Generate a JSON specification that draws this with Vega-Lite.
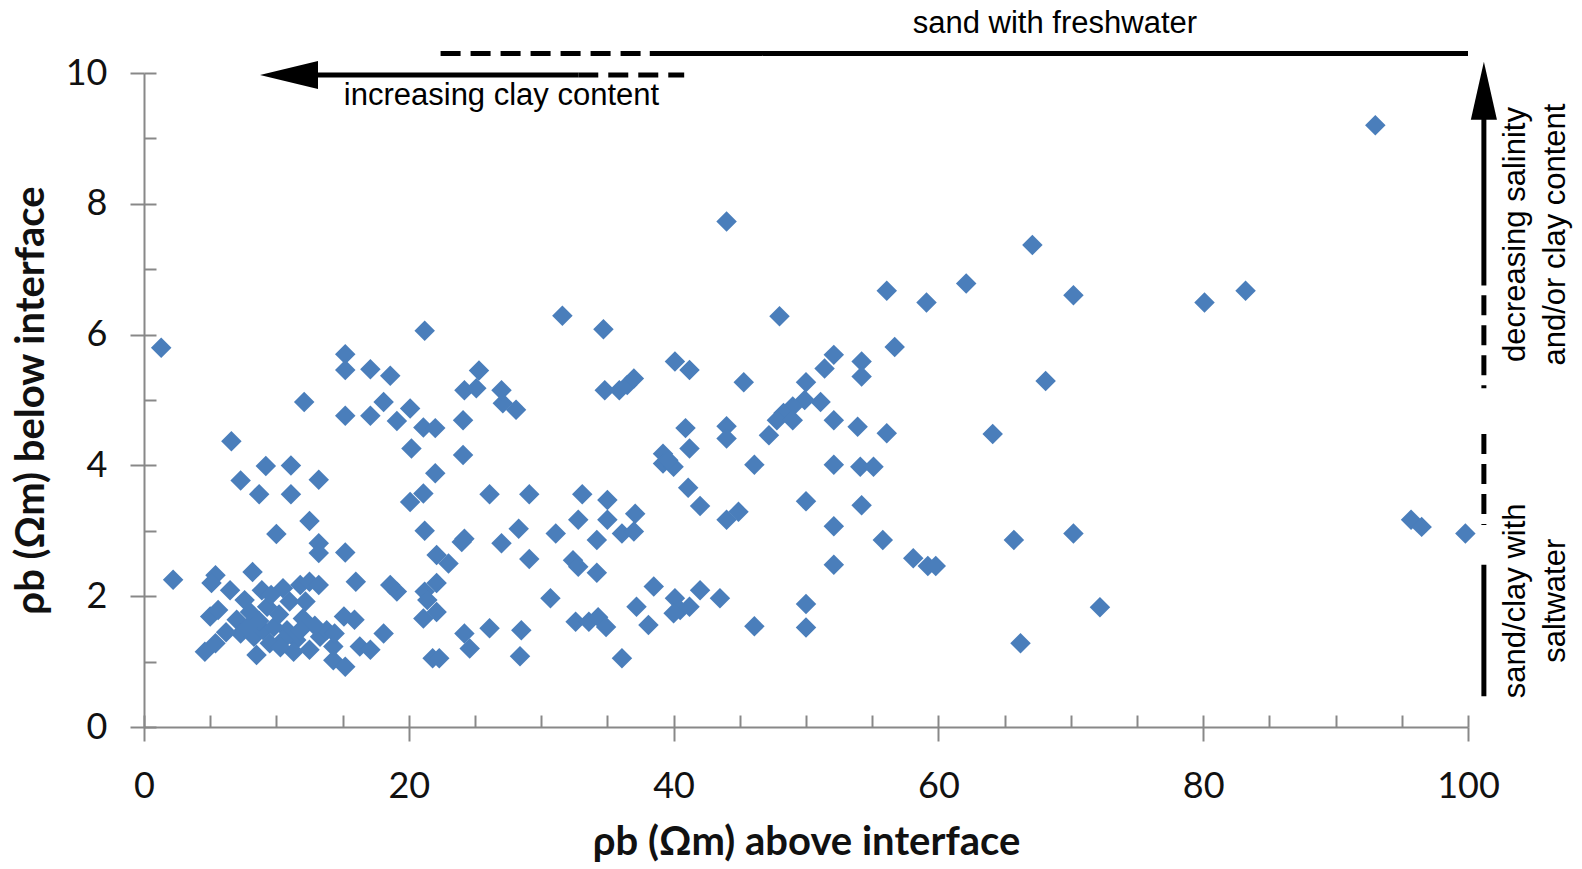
{
  "$schema": "https://vega.github.io/schema/vega-lite/v6.json",
  "width": 1324,
  "height": 654,
  "autosize": {"type": "none"},
  "padding": {"left": 144, "top": 73, "right": 114, "bottom": 142},
  "background": "white",
  "config": {"view": {"stroke": null}},
  "datasets": {
    "pts": [
      {"above": 1.3, "below": 5.8}, {"above": 2.2, "below": 2.25},
      {"above": 10.0, "below": 2.95}, {"above": 12.5, "below": 3.15}, {"above": 13.2, "below": 2.81}, {"above": 13.2, "below": 2.66},
      {"above": 5.4, "below": 2.32}, {"above": 5.1, "below": 2.2}, {"above": 8.2, "below": 2.37}, {"above": 6.5, "below": 2.09},
      {"above": 7.6, "below": 1.94}, {"above": 8.9, "below": 2.09}, {"above": 10.5, "below": 2.12}, {"above": 11.8, "below": 2.17},
      {"above": 12.5, "below": 2.22}, {"above": 13.2, "below": 2.17}, {"above": 5.0, "below": 1.69}, {"above": 5.6, "below": 1.79},
      {"above": 7.0, "below": 1.64}, {"above": 8.0, "below": 1.76}, {"above": 9.3, "below": 1.84}, {"above": 12.0, "below": 1.66},
      {"above": 7.3, "below": 1.43}, {"above": 8.3, "below": 1.38}, {"above": 9.0, "below": 1.48}, {"above": 9.8, "below": 1.53},
      {"above": 10.8, "below": 1.48}, {"above": 11.5, "below": 1.33}, {"above": 10.5, "below": 1.33}, {"above": 9.5, "below": 1.28},
      {"above": 4.6, "below": 1.15}, {"above": 5.4, "below": 1.28}, {"above": 8.5, "below": 1.1}, {"above": 13.3, "below": 1.38},
      {"above": 13.8, "below": 1.48}, {"above": 14.3, "below": 1.23}, {"above": 14.3, "below": 1.02}, {"above": 12.5, "below": 1.18},
      {"above": 11.3, "below": 1.15}, {"above": 10.2, "below": 1.72}, {"above": 11.0, "below": 1.92}, {"above": 9.6, "below": 2.02},
      {"above": 12.9, "below": 1.55}, {"above": 10.3, "below": 1.22}, {"above": 8.7, "below": 1.62}, {"above": 11.8, "below": 1.48},
      {"above": 7.8, "below": 1.52}, {"above": 12.2, "below": 1.92}, {"above": 6.2, "below": 1.45},
      {"above": 6.6, "below": 4.37}, {"above": 7.3, "below": 3.77}, {"above": 9.2, "below": 3.99}, {"above": 11.1, "below": 4.0},
      {"above": 8.7, "below": 3.56}, {"above": 11.1, "below": 3.56}, {"above": 13.2, "below": 3.78}, {"above": 12.1, "below": 4.97},
      {"above": 15.2, "below": 5.7}, {"above": 15.2, "below": 5.46}, {"above": 17.1, "below": 5.47}, {"above": 18.6, "below": 5.37},
      {"above": 15.2, "below": 4.76}, {"above": 17.1, "below": 4.76}, {"above": 18.1, "below": 4.97}, {"above": 19.1, "below": 4.68},
      {"above": 20.1, "below": 4.87}, {"above": 21.2, "below": 6.06}, {"above": 21.1, "below": 4.58}, {"above": 22.0, "below": 4.57},
      {"above": 20.2, "below": 4.26}, {"above": 22.0, "below": 3.88}, {"above": 20.1, "below": 3.44}, {"above": 21.1, "below": 3.57},
      {"above": 21.2, "below": 3.0},
      {"above": 24.1, "below": 4.69}, {"above": 27.1, "below": 4.95}, {"above": 28.1, "below": 4.85}, {"above": 24.1, "below": 4.16},
      {"above": 26.1, "below": 3.56}, {"above": 29.1, "below": 3.56}, {"above": 33.1, "below": 3.56}, {"above": 35.0, "below": 3.47},
      {"above": 32.8, "below": 3.17}, {"above": 35.0, "below": 3.17}, {"above": 36.1, "below": 2.96}, {"above": 34.2, "below": 2.86},
      {"above": 31.1, "below": 2.96}, {"above": 28.3, "below": 3.03}, {"above": 27.0, "below": 2.81}, {"above": 24.2, "below": 2.88},
      {"above": 24.0, "below": 2.83}, {"above": 15.2, "below": 2.67}, {"above": 22.1, "below": 2.63}, {"above": 23.0, "below": 2.5},
      {"above": 29.1, "below": 2.57}, {"above": 32.4, "below": 2.55}, {"above": 32.8, "below": 2.45}, {"above": 34.2, "below": 2.36},
      {"above": 16.0, "below": 2.22}, {"above": 18.6, "below": 2.17}, {"above": 19.1, "below": 2.07}, {"above": 21.2, "below": 2.07},
      {"above": 22.1, "below": 2.2}, {"above": 21.4, "below": 1.94}, {"above": 30.7, "below": 1.97}, {"above": 18.1, "below": 1.43},
      {"above": 21.1, "below": 1.66}, {"above": 22.1, "below": 1.76}, {"above": 24.2, "below": 1.43}, {"above": 24.6, "below": 1.2},
      {"above": 26.1, "below": 1.51}, {"above": 28.5, "below": 1.48}, {"above": 28.4, "below": 1.08}, {"above": 21.8, "below": 1.05},
      {"above": 22.3, "below": 1.05}, {"above": 32.6, "below": 1.61}, {"above": 33.6, "below": 1.61}, {"above": 34.3, "below": 1.68},
      {"above": 34.9, "below": 1.53}, {"above": 36.1, "below": 1.05}, {"above": 15.1, "below": 1.69}, {"above": 15.9, "below": 1.64},
      {"above": 14.4, "below": 1.43}, {"above": 16.3, "below": 1.23}, {"above": 15.2, "below": 0.92}, {"above": 17.1, "below": 1.18},
      {"above": 24.2, "below": 5.15}, {"above": 25.1, "below": 5.18}, {"above": 25.3, "below": 5.45}, {"above": 27.0, "below": 5.15},
      {"above": 31.6, "below": 6.29}, {"above": 34.7, "below": 6.08}, {"above": 34.8, "below": 5.15}, {"above": 35.9, "below": 5.15},
      {"above": 36.5, "below": 5.23}, {"above": 37.0, "below": 5.33},
      {"above": 44.0, "below": 7.73}, {"above": 56.1, "below": 6.67}, {"above": 48.0, "below": 6.28}, {"above": 56.7, "below": 5.81},
      {"above": 59.1, "below": 6.49}, {"above": 40.1, "below": 5.59}, {"above": 41.2, "below": 5.46}, {"above": 45.3, "below": 5.27},
      {"above": 52.1, "below": 5.69}, {"above": 51.4, "below": 5.48}, {"above": 54.2, "below": 5.59}, {"above": 54.2, "below": 5.36},
      {"above": 50.0, "below": 5.27}, {"above": 51.1, "below": 4.97}, {"above": 49.9, "below": 5.0}, {"above": 49.0, "below": 4.9},
      {"above": 48.3, "below": 4.8}, {"above": 47.8, "below": 4.69}, {"above": 49.0, "below": 4.69}, {"above": 47.2, "below": 4.46},
      {"above": 52.1, "below": 4.69}, {"above": 53.9, "below": 4.59}, {"above": 56.1, "below": 4.49}, {"above": 40.9, "below": 4.57},
      {"above": 44.0, "below": 4.6}, {"above": 44.0, "below": 4.41}, {"above": 41.2, "below": 4.26}, {"above": 39.2, "below": 4.18},
      {"above": 39.2, "below": 4.03}, {"above": 40.0, "below": 3.98}, {"above": 39.6, "below": 4.08}, {"above": 46.1, "below": 4.01},
      {"above": 52.1, "below": 4.01}, {"above": 54.1, "below": 3.98}, {"above": 55.1, "below": 3.98}, {"above": 41.1, "below": 3.66},
      {"above": 42.0, "below": 3.38}, {"above": 37.1, "below": 3.26}, {"above": 37.0, "below": 2.99}, {"above": 44.0, "below": 3.17},
      {"above": 44.9, "below": 3.29}, {"above": 50.0, "below": 3.45}, {"above": 54.2, "below": 3.39}, {"above": 52.1, "below": 3.07},
      {"above": 55.8, "below": 2.86}, {"above": 58.1, "below": 2.58}, {"above": 52.1, "below": 2.48}, {"above": 38.5, "below": 2.15},
      {"above": 37.2, "below": 1.84}, {"above": 38.1, "below": 1.56}, {"above": 40.1, "below": 1.97}, {"above": 40.5, "below": 1.79},
      {"above": 40.0, "below": 1.74}, {"above": 41.2, "below": 1.84}, {"above": 42.0, "below": 2.09}, {"above": 43.5, "below": 1.97},
      {"above": 46.1, "below": 1.54}, {"above": 50.0, "below": 1.88}, {"above": 50.0, "below": 1.52},
      {"above": 93.0, "below": 9.2}, {"above": 67.1, "below": 7.37}, {"above": 62.1, "below": 6.78}, {"above": 70.2, "below": 6.6},
      {"above": 80.1, "below": 6.49}, {"above": 83.2, "below": 6.67}, {"above": 68.1, "below": 5.29}, {"above": 64.1, "below": 4.48},
      {"above": 59.2, "below": 2.46}, {"above": 59.8, "below": 2.46}, {"above": 65.7, "below": 2.86}, {"above": 70.2, "below": 2.96},
      {"above": 72.2, "below": 1.83}, {"above": 66.2, "below": 1.28}, {"above": 95.7, "below": 3.17}, {"above": 96.5, "below": 3.06},
      {"above": 99.8, "below": 2.96}
    ],
    "lines": [
      {"x": 22.4, "x2": 38.2, "y": 10.3, "y2": 10.3, "style": "dashed"},
      {"x": 38.2, "x2": 100, "y": 10.3, "y2": 10.3, "style": "solid"},
      {"x": 12.5, "x2": 32.8, "y": 9.97, "y2": 9.97, "style": "solid"},
      {"x": 32.8, "x2": 40.8, "y": 9.97, "y2": 9.97, "style": "dashed"},
      {"x": 101.2, "x2": 101.2, "y": 9.4, "y2": 6.75, "style": "solid"},
      {"x": 101.2, "x2": 101.2, "y": 6.6, "y2": 5.18, "style": "dashed"},
      {"x": 101.2, "x2": 101.2, "y": 4.48, "y2": 3.09, "style": "dashed"},
      {"x": 101.2, "x2": 101.2, "y": 2.48, "y2": 0.47, "style": "solid"}
    ],
    "heads": [
      {"x": 10.95, "y": 9.97, "dir": "left"},
      {"x": 101.2, "y": 9.73, "dir": "up"}
    ],
    "hlabels": [
      {"label": "sand with freshwater", "x": 68.8, "y": 10.61},
      {"label": "increasing clay content", "x": 27.0, "y": 9.51}
    ],
    "vlabels": [
      {"label": "decreasing salinity\nand/or clay content", "x": 104.3, "y": 7.53},
      {"label": "sand/clay with\nsaltwater", "x": 104.3, "y": 1.93}
    ]
  },
  "layer": [
    {
      "data": {"name": "pts"},
      "mark": {"type": "point", "shape": "diamond", "filled": true, "size": 420, "opacity": 1, "color": "#4A7EBB"},
      "encoding": {
        "x": {
          "field": "above", "type": "quantitative",
          "scale": {"domain": [0, 100], "nice": false, "zero": false},
          "axis": {
            "title": "ρb (Ωm) above interface",
            "values": [0, 5, 10, 15, 20, 25, 30, 35, 40, 45, 50, 55, 60, 65, 70, 75, 80, 85, 90, 95, 100],
            "format": "d",
            "labelExpr": "datum.value % 20 === 0 ? datum.label : ''",
            "labelFlush": false, "labelOverlap": false, "labelBound": false,
            "labelFont": "Lato", "labelFontSize": 36, "labelColor": "#111111", "labelPadding": 28,
            "tickSize": 14, "tickWidth": 2, "tickColor": "#888888",
            "tickOpacity": {"condition": {"test": "datum.value % 20 === 0", "value": 1}, "value": 0},
            "grid": true, "gridColor": "#888888", "gridWidth": 2, "gridDash": [12, 642], "gridDashOffset": 12,
            "domainColor": "#888888", "domainWidth": 2,
            "titleFont": "Lato", "titleFontSize": 40, "titleFontWeight": "bold", "titleColor": "#111111", "titlePadding": 18
          }
        },
        "y": {
          "field": "below", "type": "quantitative",
          "scale": {"domain": [0, 10], "nice": false},
          "axis": {
            "title": "ρb (Ωm) below interface",
            "values": [0, 1, 2, 3, 4, 5, 6, 7, 8, 9, 10],
            "format": "d",
            "labelExpr": "datum.value % 2 === 0 ? datum.label : ''",
            "labelFlush": false, "labelOverlap": false, "labelBound": false,
            "labelFont": "Lato", "labelFontSize": 36, "labelColor": "#111111", "labelPadding": 23,
            "tickSize": 14, "tickWidth": 2, "tickColor": "#888888",
            "tickOpacity": {"condition": {"test": "datum.value % 2 === 0", "value": 1}, "value": 0},
            "grid": true, "gridColor": "#888888", "gridWidth": 2, "gridDash": [12, 2000],
            "domainColor": "#888888", "domainWidth": 2,
            "titleFont": "Lato", "titleFontSize": 40, "titleFontWeight": "bold", "titleColor": "#111111", "titlePadding": 14
          }
        }
      }
    },
    {
      "data": {"name": "lines"},
      "mark": {"type": "rule", "strokeWidth": 5, "color": "black"},
      "encoding": {
        "x": {"field": "x", "type": "quantitative"},
        "x2": {"field": "x2"},
        "y": {"field": "y", "type": "quantitative"},
        "y2": {"field": "y2"},
        "strokeDash": {"field": "style", "type": "nominal", "scale": {"domain": ["solid", "dashed"], "range": [[1, 0], [20, 10]]}, "legend": null}
      }
    },
    {
      "data": {"name": "heads"},
      "mark": {"type": "point", "filled": true, "size": 3364, "opacity": 1, "color": "black", "strokeWidth": 0},
      "encoding": {
        "x": {"field": "x", "type": "quantitative"},
        "y": {"field": "y", "type": "quantitative"},
        "shape": {"field": "dir", "type": "nominal", "scale": {"domain": ["left", "up"], "range": ["M-1,0L1,-0.48L1,0.48Z", "M0,-1L-0.45,1L0.45,1Z"]}, "legend": null}
      }
    },
    {
      "data": {"name": "hlabels"},
      "mark": {"type": "text", "font": "Liberation Sans", "fontSize": 31, "align": "center", "baseline": "alphabetic", "color": "black"},
      "encoding": {
        "x": {"field": "x", "type": "quantitative"},
        "y": {"field": "y", "type": "quantitative"},
        "text": {"field": "label"}
      }
    },
    {
      "data": {"name": "vlabels"},
      "mark": {"type": "text", "font": "Liberation Sans", "fontSize": 31, "align": "center", "baseline": "alphabetic", "angle": 270, "lineBreak": "\n", "lineHeight": 40, "color": "black"},
      "encoding": {
        "x": {"field": "x", "type": "quantitative"},
        "y": {"field": "y", "type": "quantitative"},
        "text": {"field": "label"}
      }
    }
  ]
}
